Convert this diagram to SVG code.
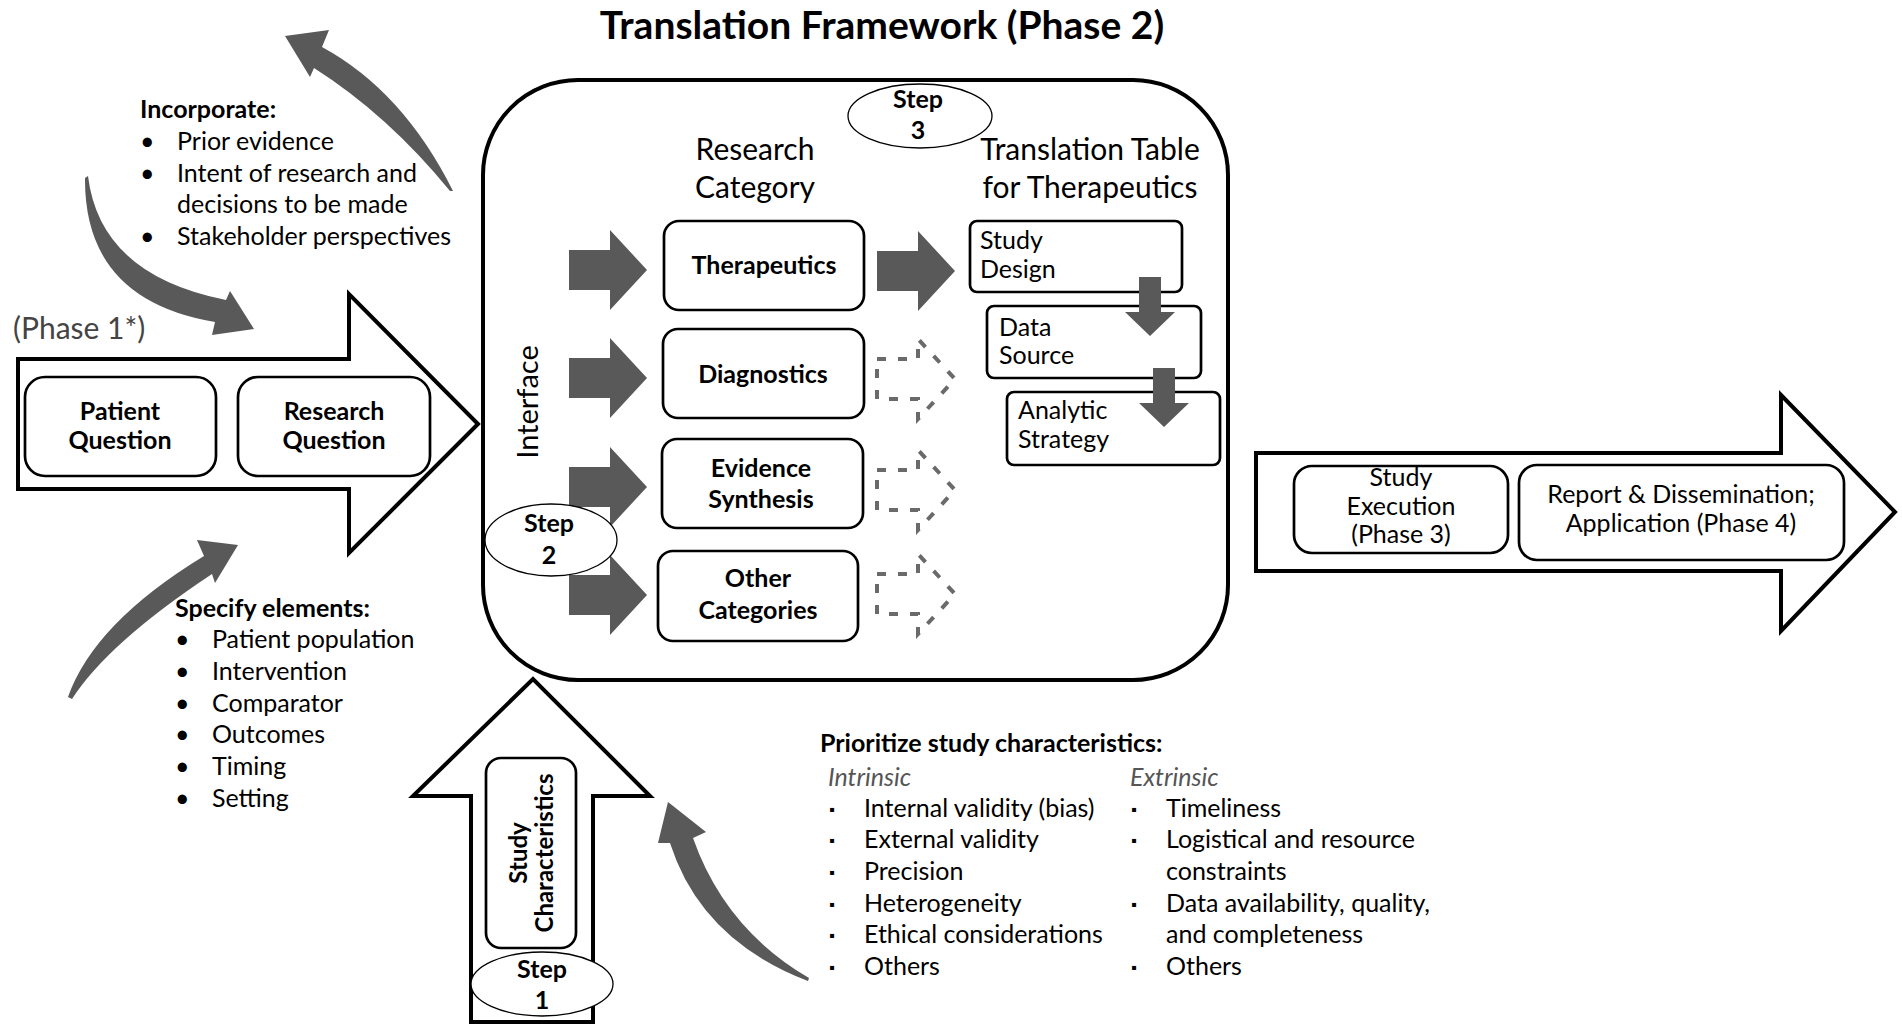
<svg xmlns="http://www.w3.org/2000/svg" width="1902" height="1024" viewBox="0 0 1902 1024">
<style>
text{font-family:Lato,"Liberation Sans","DejaVu Sans",sans-serif;fill:#000}
.b{font-weight:bold}
.s22{font-size:25px}
.s27{font-size:30px}
.mid{text-anchor:middle}
.box{fill:#fff;stroke:#000;stroke-width:2.7}
.big{fill:#fff;stroke:#000;stroke-width:4;stroke-linejoin:miter}
.ell{fill:#fff;stroke:#000;stroke-width:1.3}
.farr{fill:#595959}
.darr{fill:none;stroke:#6a6a6a;stroke-width:4;stroke-dasharray:9 12}
.it{font-style:italic;fill:#555}
.stp{font-size:25px;font-weight:bold;text-anchor:middle}
</style>
<defs>
<path id="rarrow" d="M0,-20 L41,-20 L41,-40 L78,0 L41,40 L41,20 L0,20 Z"/>
<path id="darrow" d="M-11,0 L11,0 L11,35 L25,35 L0,59 L-25,35 L-11,35 Z"/>
</defs>
<rect width="1902" height="1024" fill="#fff"/>

<text id="title" class="b mid" x="882" y="39" font-size="39">Translation Framework (Phase 2)</text>

<g id="incorporate">
<text class="b s22" x="140" y="118">Incorporate:</text>
<text class="s22" x="140" y="150">•</text><text class="s22" x="177" y="150">Prior evidence</text>
<text class="s22" x="140" y="182">•</text><text class="s22" x="177" y="182">Intent of research and</text>
<text class="s22" x="177" y="213">decisions to be made</text>
<text class="s22" x="140" y="245">•</text><text class="s22" x="177" y="245">Stakeholder perspectives</text>
</g>

<g id="phase1">
<text x="13" y="339" font-size="30" style="fill:#444">(Phase 1*)</text>
<path class="big" d="M18,359 L349,359 L349,294 L478,424 L349,553 L349,489 L18,489 Z"/>
<g id="patient-question">
<rect class="box" x="25" y="377" width="191" height="99" rx="20"/>
<text class="b s22 mid" x="120" y="420">Patient</text>
<text class="b s22 mid" x="120" y="449">Question</text>
</g>
<g id="research-question">
<rect class="box" x="238" y="377" width="192" height="99" rx="20"/>
<text class="b s22 mid" x="334" y="420">Research</text>
<text class="b s22 mid" x="334" y="449">Question</text>
</g>
</g>

<g id="specify">
<text class="b s22" x="175" y="617">Specify elements:</text>
<text class="s22" x="175" y="648">•</text><text class="s22" x="212" y="648">Patient population</text>
<text class="s22" x="175" y="680">•</text><text class="s22" x="212" y="680">Intervention</text>
<text class="s22" x="175" y="712">•</text><text class="s22" x="212" y="712">Comparator</text>
<text class="s22" x="175" y="743">•</text><text class="s22" x="212" y="743">Outcomes</text>
<text class="s22" x="175" y="775">•</text><text class="s22" x="212" y="775">Timing</text>
<text class="s22" x="175" y="807">•</text><text class="s22" x="212" y="807">Setting</text>
</g>

<g id="framework">
<rect x="483" y="80" width="745" height="600" rx="95" fill="#fff" stroke="#000" stroke-width="4"/>
<text transform="translate(538,402) rotate(-90)" class="mid" font-size="29">Interface</text>
<text class="s27 mid" x="755" y="160">Research</text>
<text class="s27 mid" x="755" y="198">Category</text>
<text class="s27 mid" x="1090" y="160">Translation Table</text>
<text class="s27 mid" x="1090" y="198">for Therapeutics</text>
</g>

<g id="therapeutics">
<rect class="box" x="664" y="221" width="200" height="89" rx="15"/>
<text class="b s22 mid" x="764" y="274">Therapeutics</text>
</g>
<g id="diagnostics">
<rect class="box" x="663" y="329" width="201" height="89" rx="15"/>
<text class="b s22 mid" x="763" y="383">Diagnostics</text>
</g>
<g id="evidence-synthesis">
<rect class="box" x="662" y="439" width="201" height="89" rx="15"/>
<text class="b s22 mid" x="761" y="477">Evidence</text>
<text class="b s22 mid" x="761" y="508">Synthesis</text>
</g>
<g id="other-categories">
<rect class="box" x="658" y="551" width="200" height="90" rx="15"/>
<text class="b s22 mid" x="758" y="587">Other</text>
<text class="b s22 mid" x="758" y="619">Categories</text>
</g>

<g id="study-design">
<rect class="box" x="970" y="221" width="212" height="71" rx="7"/>
<text class="s22" x="980" y="249">Study</text>
<text class="s22" x="980" y="278">Design</text>
</g>
<g id="data-source">
<rect class="box" x="987" y="306" width="214" height="72" rx="7"/>
<text class="s22" x="999" y="336">Data</text>
<text class="s22" x="999" y="364">Source</text>
</g>
<g id="analytic-strategy">
<rect class="box" x="1007" y="392" width="213" height="73" rx="7"/>
<text class="s22" x="1018" y="419">Analytic</text>
<text class="s22" x="1018" y="448">Strategy</text>
</g>

<g id="phase34">
<path class="big" d="M1256,453 L1781,453 L1781,395 L1895,512 L1781,631 L1781,571 L1256,571 Z"/>
<g id="study-execution">
<rect class="box" x="1294" y="466" width="214" height="87" rx="18"/>
<text class="s22 mid" x="1401" y="486">Study</text>
<text class="s22 mid" x="1401" y="515">Execution</text>
<text class="s22 mid" x="1401" y="543">(Phase 3)</text>
</g>
<g id="report">
<rect class="box" x="1519" y="465" width="325" height="95" rx="18"/>
<text class="s22 mid" x="1681" y="503">Report &amp; Dissemination;</text>
<text class="s22 mid" x="1681" y="532">Application (Phase 4)</text>
</g>
</g>

<g id="study-characteristics">
<path class="big" d="M471,1022 L471,796 L413,796 L533,679 L650,796 L593,796 L593,1022 Z"/>
<rect class="box" x="486" y="758" width="90" height="190" rx="15"/>
<text transform="translate(527,853) rotate(-90)" class="b mid" font-size="24">Study</text>
<text transform="translate(553,853) rotate(-90)" class="b mid" font-size="24">Characteristics</text>
</g>

<g id="prioritize">
<text class="b s22" x="820" y="752">Prioritize study characteristics:</text>
<text class="s22 it" x="828" y="786">Intrinsic</text>
<text class="s22 it" x="1130" y="786">Extrinsic</text>
<g font-size="15">
<text x="829" y="815">▪</text><text x="829" y="846">▪</text><text x="829" y="878">▪</text><text x="829" y="910">▪</text><text x="829" y="941">▪</text><text x="829" y="973">▪</text>
<text x="1131" y="815">▪</text><text x="1131" y="846">▪</text><text x="1131" y="910">▪</text><text x="1131" y="973">▪</text>
</g>
<text class="s22" x="864" y="817">Internal validity (bias)</text>
<text class="s22" x="864" y="848">External validity</text>
<text class="s22" x="864" y="880">Precision</text>
<text class="s22" x="864" y="912">Heterogeneity</text>
<text class="s22" x="864" y="943">Ethical considerations</text>
<text class="s22" x="864" y="975">Others</text>
<text class="s22" x="1166" y="817">Timeliness</text>
<text class="s22" x="1166" y="848">Logistical and resource</text>
<text class="s22" x="1166" y="880">constraints</text>
<text class="s22" x="1166" y="912">Data availability, quality,</text>
<text class="s22" x="1166" y="943">and completeness</text>
<text class="s22" x="1166" y="975">Others</text>
</g>

<g id="connectors">
<use href="#rarrow" class="farr" x="569" y="270"/>
<use href="#rarrow" class="farr" x="569" y="378"/>
<use href="#rarrow" class="farr" x="569" y="487"/>
<use href="#rarrow" class="farr" x="569" y="595"/>
<use href="#rarrow" class="farr" x="877" y="271"/>
<use href="#rarrow" class="darr" x="877" y="379"/>
<use href="#rarrow" class="darr" x="877" y="490"/>
<use href="#rarrow" class="darr" x="877" y="594"/>
<use href="#darrow" class="farr" x="1150" y="277"/>
<use href="#darrow" class="farr" x="1164" y="368"/>
<path class="farr" d="M453,191 Q403,91 322,47 L329,30 L285,36 L310,77 L314,68 Q388,115 450,191 Z"/>
<path class="farr" d="M88,176 Q100,275 226,300 L230,291 L254,329 L212,335 L215,322 Q84,300 85,178 Z"/>
<path class="farr" d="M68,697 Q94,623 204,556 L197,540 L238,545 L215,583 L212,574 Q108,643 72,699 Z"/>
<path class="farr" d="M808,981 Q701,940 670,843 L658,843 L668,802 L706,832 L693,838 Q725,929 809,978 Z"/>
</g>

<g id="step3"><ellipse class="ell" cx="920" cy="116" rx="72" ry="32"/>
<text class="stp" x="918" y="108">Step</text><text class="stp" x="918" y="139">3</text></g>
<g id="step2"><ellipse class="ell" cx="551" cy="540" rx="66" ry="36"/>
<text class="stp" x="549" y="532">Step</text><text class="stp" x="549" y="564">2</text></g>
<g id="step1"><ellipse class="ell" cx="542" cy="984" rx="71" ry="32"/>
<text class="stp" x="542" y="978">Step</text><text class="stp" x="542" y="1009">1</text></g>
</svg>
